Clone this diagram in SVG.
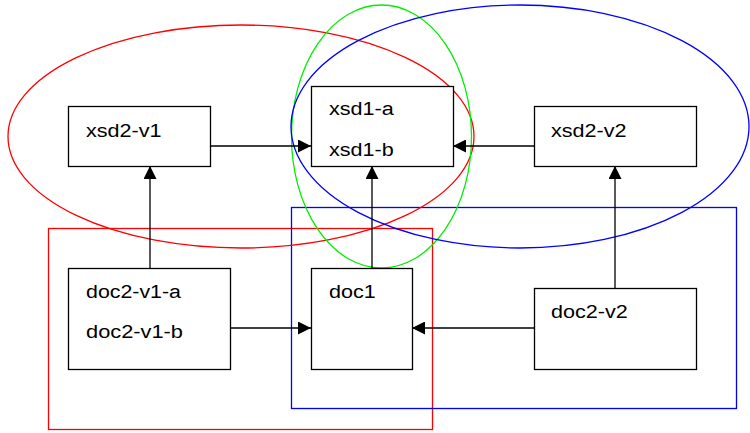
<svg xmlns="http://www.w3.org/2000/svg" width="750" height="433" viewBox="0 0 750 433">
<style>
.node rect{fill:#fff;stroke:#000;stroke-width:1.3}
.node text{font-family:"Liberation Sans",Arial,sans-serif;font-size:18px;fill:#000}
.edge{stroke:#000;stroke-width:1.3;fill:none;marker-end:url(#arr)}
.grp{fill:none;stroke-width:1.3}
</style>
<defs>
<marker id="arr" markerWidth="13" markerHeight="13" refX="13" refY="6.5" orient="auto" markerUnits="userSpaceOnUse">
<path d="M0,0 L13,6.5 L0,13 Z" fill="#000"/>
</marker>
</defs>
<g id="groups">
<rect class="grp" x="48.5" y="228.5" width="384" height="201" stroke="#ff0000"/>
<rect class="grp" x="291.5" y="207.5" width="445" height="201" stroke="#0000ff"/>
<ellipse class="grp" cx="241" cy="136.5" rx="233" ry="111.5" stroke="#ff0000"/>
<ellipse class="grp" cx="381.5" cy="136.5" rx="90" ry="131.5" stroke="#00ee00"/>
<ellipse class="grp" cx="520" cy="126.5" rx="229" ry="121.5" stroke="#0000ff"/>
</g>
<g id="connectors">
<line class="edge" x1="210" y1="146" x2="311" y2="146"/>
<line class="edge" x1="534" y1="146" x2="453" y2="146"/>
<line class="edge" x1="230" y1="328" x2="311" y2="328"/>
<line class="edge" x1="534" y1="328" x2="412" y2="328"/>
<line class="edge" x1="150" y1="268" x2="150" y2="166"/>
<line class="edge" x1="372" y1="268" x2="372" y2="166"/>
<line class="edge" x1="615" y1="288" x2="615" y2="166"/>
</g>
<g id="xsd2-v1" class="node">
<rect x="68.5" y="106.5" width="142" height="60"/>
<text x="86" y="137" textLength="75.5" lengthAdjust="spacingAndGlyphs">xsd2-v1</text>
</g>
<g id="xsd1" class="node">
<rect x="311.5" y="86.5" width="142" height="80"/>
<text x="329" y="114.5" textLength="64.8" lengthAdjust="spacingAndGlyphs">xsd1-a</text>
<text x="329" y="155.5" textLength="64.8" lengthAdjust="spacingAndGlyphs">xsd1-b</text>
</g>
<g id="xsd2-v2" class="node">
<rect x="534.5" y="106.5" width="162" height="60"/>
<text x="551" y="137" textLength="75.5" lengthAdjust="spacingAndGlyphs">xsd2-v2</text>
</g>
<g id="doc2-v1" class="node">
<rect x="68.5" y="268.5" width="162" height="101"/>
<text x="86" y="297.5" textLength="95" lengthAdjust="spacingAndGlyphs">doc2-v1-a</text>
<text x="86" y="337.5" textLength="97" lengthAdjust="spacingAndGlyphs">doc2-v1-b</text>
</g>
<g id="doc1" class="node">
<rect x="311.5" y="268.5" width="101" height="101"/>
<text x="329" y="297.5" textLength="46.8" lengthAdjust="spacingAndGlyphs">doc1</text>
</g>
<g id="doc2-v2" class="node">
<rect x="534.5" y="288.5" width="162" height="81"/>
<text x="551" y="317.5" textLength="76.8" lengthAdjust="spacingAndGlyphs">doc2-v2</text>
</g>
</svg>
